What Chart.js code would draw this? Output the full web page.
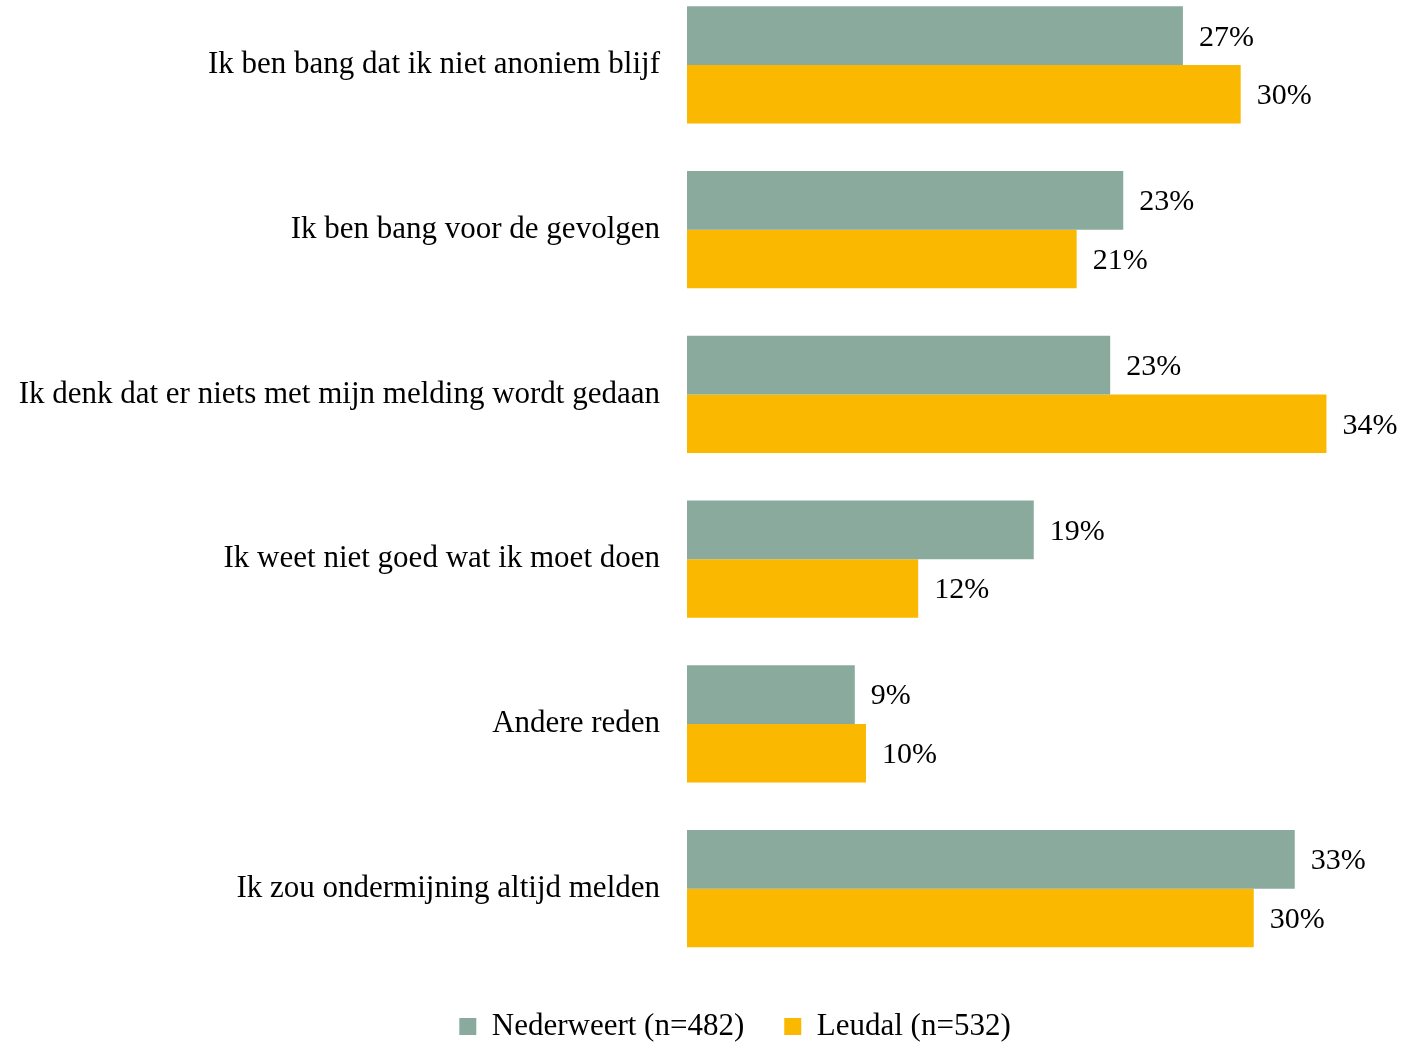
<!DOCTYPE html>
<html>
<head>
<meta charset="utf-8">
<script src="https://cdn.jsdelivr.net/npm/chart.js@4.4.0/dist/chart.umd.min.js"></script>
<style>
    body { margin: 0; background: #fff; }
    #wrap { position: relative; width: 1421px; height: 1045px; overflow: hidden; }
    /* the original picture is cropped: the plot starts a little above the top edge */
    #reasonChart { position: absolute; left: 0; top: -63px; }
</style>
</head>
<body>
<div id="wrap">
    <canvas id="reasonChart" width="1470" height="1115"></canvas>
</div>
<script>
// Data
const categories = [
    'Ik ben bang dat ik niet anoniem blijf',
    'Ik ben bang voor de gevolgen',
    'Ik denk dat er niets met mijn melding wordt gedaan',
    'Ik weet niet goed wat ik moet doen',
    'Andere reden',
    'Ik zou ondermijning altijd melden'
];
const seriesNames = ['Nederweert (n=482)', 'Leudal (n=532)'];
const nederweert = [26.6, 23.4, 22.7, 18.6, 9.0, 32.6];
const leudal = [29.7, 20.9, 34.3, 12.4, 9.6, 30.4];

const fontFamily = '"Liberation Serif", "Times New Roman", serif';

// Percentage labels next to each bar
const valueLabels = {
    id: 'valueLabels',
    afterDatasetsDraw(chart) {
        const ctx = chart.ctx;
        ctx.save();
        ctx.font = '30px ' + fontFamily;
        ctx.fillStyle = '#000';
        ctx.textAlign = 'left';
        ctx.textBaseline = 'middle';
        chart.data.datasets.forEach((ds, i) => {
            chart.getDatasetMeta(i).data.forEach((bar, j) => {
                ctx.fillText(Math.round(ds.data[j]) + '%', bar.x + 16, bar.y + 2);
            });
        });
        ctx.restore();
    }
};

function initChart() {
    const ctx = document.getElementById('reasonChart').getContext('2d');
    new Chart(ctx, {
        type: 'bar',
        data: {
            labels: categories,
            datasets: [{
                label: seriesNames[0],
                data: nederweert,
                backgroundColor: '#8AAA9E'
            }, {
                label: seriesNames[1],
                data: leudal,
                backgroundColor: '#FAB800'
            }]
        },
        options: {
            indexAxis: 'y',
            responsive: false,
            animation: false,
            devicePixelRatio: 1,
            categoryPercentage: 0.712,
            barPercentage: 1,
            layout: { padding: 0 },
            plugins: {
                legend: {
                    position: 'bottom',
                    labels: {
                        boxWidth: 17,
                        boxHeight: 17,
                        padding: 40,
                        color: '#000',
                        font: { family: fontFamily, size: 31 }
                    }
                },
                tooltip: { enabled: false }
            },
            scales: {
                x: {
                    display: false,
                    min: 0,
                    max: 42
                },
                y: {
                    grid: { display: false, drawTicks: false },
                    border: { display: false },
                    ticks: {
                        padding: 27,
                        color: '#000',
                        font: { family: fontFamily, size: 31 }
                    },
                    afterFit: (scale) => { scale.width = 687; }
                }
            }
        },
        plugins: [valueLabels]
    });
}

window.addEventListener('load', initChart);
</script>
</body>
</html>
